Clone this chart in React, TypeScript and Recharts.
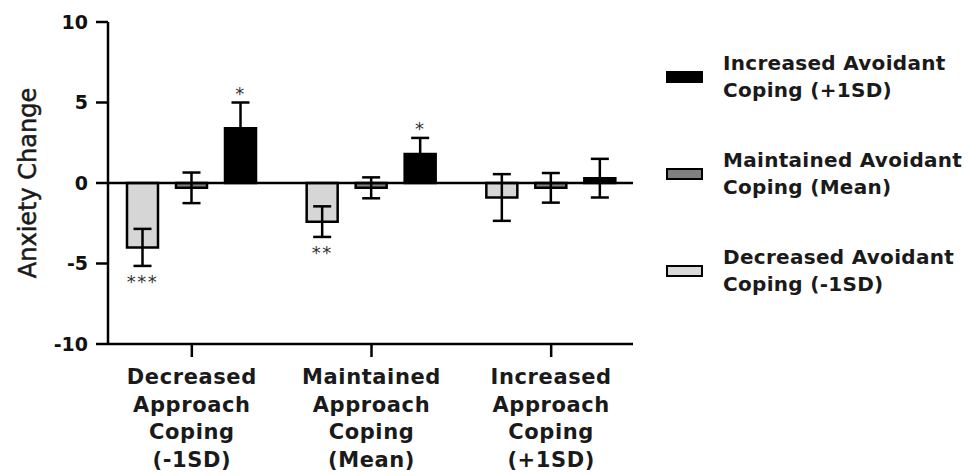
import { BarChart, Bar, XAxis, YAxis, ErrorBar, ReferenceLine, LabelList } from "recharts";

const categories = ["Decreased Approach Coping (-1SD)", "Maintained Approach Coping (Mean)", "Increased Approach Coping (+1SD)"];
const tickLines = [
    ["Decreased", "Approach", "Coping", "(-1SD)"],
    ["Maintained", "Approach", "Coping", "(Mean)"],
    ["Increased", "Approach", "Coping", "(+1SD)"],
];

const lowAvoid = [-4.0, -2.4, -0.9];
const lowAvoidErr = [1.15, 0.95, 1.45];
const meanAvoid = [-0.3, -0.3, -0.3];
const meanAvoidErr = [0.95, 0.65, 0.92];
const highAvoid = [3.4, 1.8, 0.3];
const highAvoidErr = [1.6, 1.0, 1.2];

const lowStars = ["***", "**", ""];
const highStars = ["*", "*", ""];

const yTicks = [-10, -5, 0, 5, 10];

const legendItems = [
    { label: ["Increased Avoidant", "Coping (+1SD)"], fill: "#000000" },
    { label: ["Maintained Avoidant", "Coping (Mean)"], fill: "#808080" },
    { label: ["Decreased Avoidant", "Coping (-1SD)"], fill: "#d9d9d9" },
];

const data = categories.map((c, i) => ({
    name: c,
    low: lowAvoid[i],
    lowErr: lowAvoidErr[i],
    lowStar: lowStars[i],
    mean: meanAvoid[i],
    meanErr: meanAvoidErr[i],
    high: highAvoid[i],
    highErr: highAvoidErr[i],
    highStar: highStars[i],
}));

const FONT = "'DejaVu Sans', sans-serif";

const XTick = (props: any) => {
    const { x, y, payload } = props;
    const lines = tickLines[payload.index] || [];
    return (
        <text x={x} y={y} textAnchor="middle" fontFamily={FONT} fontWeight="bold" fontSize={21} fill="#1a1a1a" letterSpacing={0.6}>
            {lines.map((l, i) => (
                <tspan key={i} x={x} dy={i === 0 ? 25 : 27.5}>{l}</tspan>
            ))}
        </text>
    );
};

// star above/below the error bar end, placed from the bar's own geometry
const makeStars = (vals: number[], errs: number[]) => (props: any) => {
    const { x, y, width, height, value, index } = props;
    if (!value) return null;
    const val = vals[index];
    const pxPerUnit = height / val;
    const errPx = errs[index] * pxPerUnit;
    const cx = x + width / 2;
    const sy = val < 0 ? y + errPx + 22 : y - errPx - 3;
    return (
        <text x={cx} y={sy} textAnchor="middle" fontFamily={FONT} fontSize={18} fill="#333" letterSpacing={1.5}>
            {value}
        </text>
    );
};

export default function App() {
    return (
        <div style={{ position: "relative", width: 963, height: 468 }}>
            <BarChart
                width={963}
                height={468}
                data={data}
                margin={{ top: 14, right: 338, bottom: 0, left: 0 }}
                barSize={31}
                barGap={18}
            >
                <XAxis
                    dataKey="name"
                    height={132}
                    tick={<XTick />}
                    tickSize={13}
                    padding={{ left: -6, right: -8 }}
                    axisLine={{ stroke: "#000", strokeWidth: 2.5 }}
                    tickLine={{ stroke: "#000", strokeWidth: 2.5 }}
                    interval={0}
                />
                <YAxis
                    width={100}
                    domain={[-10, 10]}
                    ticks={yTicks}
                    tickSize={12}
                    tickMargin={8}
                    axisLine={{ stroke: "#000", strokeWidth: 2.5 }}
                    tickLine={{ stroke: "#000", strokeWidth: 2.5 }}
                    tick={{ fontFamily: FONT, fontWeight: "bold", fontSize: 19, fill: "#111" }}
                    label={{
                        value: "Anxiety Change",
                        content: (p: any) => {
                            const cy = p.viewBox.y + p.viewBox.height / 2;
                            return (
                                <text x={20} y={cy} transform={`rotate(-90, 20, ${cy})`} textAnchor="middle" dominantBaseline="central" fontFamily={FONT} fontSize={24} fill="#1a1a1a" stroke="#1a1a1a" strokeWidth={0.5}>
                                    Anxiety Change
                                </text>
                            );
                        },
                    }}
                />
                <ReferenceLine y={0} stroke="#000" strokeWidth={2.5} />
                <Bar dataKey="low" fill="#d6d6d6" stroke="#000" strokeWidth={2.5} isAnimationActive={false}>
                    <ErrorBar dataKey="lowErr" width={9} stroke="#000" strokeWidth={2.5} />
                    <LabelList dataKey="lowStar" content={makeStars(lowAvoid, lowAvoidErr)} />
                </Bar>
                <Bar dataKey="mean" fill="#808080" stroke="#000" strokeWidth={2.5} isAnimationActive={false}>
                    <ErrorBar dataKey="meanErr" width={9} stroke="#000" strokeWidth={2.5} />
                </Bar>
                <Bar dataKey="high" fill="#000000" stroke="#000" strokeWidth={2.5} isAnimationActive={false}>
                    <ErrorBar dataKey="highErr" width={9} stroke="#000" strokeWidth={2.5} />
                    <LabelList dataKey="highStar" content={makeStars(highAvoid, highAvoidErr)} />
                </Bar>
            </BarChart>
            <div style={{ position: "absolute", left: 658, top: 42, fontFamily: FONT, fontWeight: "bold", fontSize: 20, color: "#1a1a1a", whiteSpace: "nowrap" }}>
                {legendItems.map((it, i) => (
                    <div key={i} style={{ display: "flex", alignItems: "center", marginBottom: 43 }}>
                        <div style={{ width: 33, height: 8, border: "2px solid #000", background: it.fill, marginRight: 20 }} />
                        <div style={{ lineHeight: "27px", letterSpacing: 0.3 }}>
                            {it.label.map((l, j) => (
                                <div key={j}>{l}</div>
                            ))}
                        </div>
                    </div>
                ))}
            </div>
        </div>
    );
}
